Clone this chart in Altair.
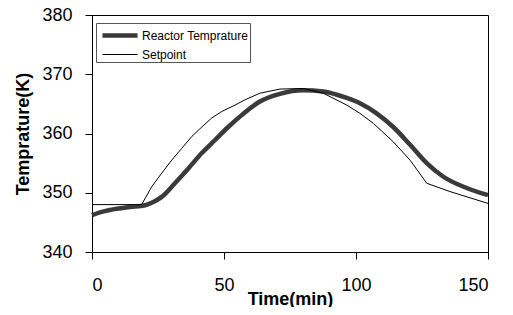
import altair as alt
import pandas as pd

# Setpoint trajectory
sp_t = [0, 18.8, 22.6, 26.4, 30.2, 34.0, 37.8, 41.6, 45.3, 49.1, 54.2, 58.0, 63.6,
        71.2, 80.0, 87.6, 96.5, 101.5, 106.6, 114.1, 120.5, 126.8, 135.6, 150]
sp_v = [348.0, 348.0, 351.0, 353.3, 355.5, 357.5, 359.5, 361.1, 362.6, 363.7, 364.8,
        365.7, 366.8, 367.5, 367.6, 366.8, 364.8, 363.4, 361.7, 358.6, 355.5, 351.6,
        350.2, 348.2]

# Reactor temperature
rt_t = [0, 3, 6.8, 14.4, 20.1, 23, 26.4, 31.4, 36.5, 41.6, 46.6, 51.6, 56.7, 63.6,
        71.2, 80, 87.6, 96.5, 101.5, 107.8, 114.1, 120.5, 126.8, 133.1, 141.9, 150]
rt_v = [346.2, 346.7, 347.1, 347.6, 347.9, 348.4, 349.3, 351.6, 354.1, 356.7, 358.9,
        361.1, 363.1, 365.4, 366.7, 367.3, 367.1, 366.0, 365.1, 363.4, 361.1, 358.1,
        355.0, 352.7, 350.8, 349.6]

series = ["Reactor Temprature", "Setpoint"]
x_ticks = [0, 50, 100, 150]
y_ticks = [340, 350, 360, 370, 380]

df = pd.concat([
    pd.DataFrame({"t": rt_t, "v": rt_v, "s": series[0], "o": range(len(rt_t))}),
    pd.DataFrame({"t": sp_t, "v": sp_v, "s": series[1], "o": range(len(sp_t))}),
])

leg = alt.Legend(title=None, orient="none", legendX=4, legendY=8,
                 symbolType="M-1.95,0H1.95", symbolSize=324, symbolOffset=11.5,
                 labelFont="Liberation Sans", labelFontSize=12, labelOffset=10.5,
                 padding=1, rowPadding=0, strokeColor="#555555", fillColor="white")

base = alt.Chart(df).encode(
    x=alt.X("t:Q", scale=alt.Scale(domain=[0, 150], nice=False),
            axis=alt.Axis(values=x_ticks, title="Time(min)", labelPadding=17,
                          titleY=52, titleBaseline="alphabetic")),
    y=alt.Y("v:Q", scale=alt.Scale(domain=[340, 380], nice=False, zero=False),
            axis=alt.Axis(values=y_ticks, title="Temprature(K)", labelPadding=13,
                          titlePadding=9)),
    color=alt.Color("s:N", scale=alt.Scale(domain=series, range=["#3a3a3a", "#000000"]),
                    legend=leg),
    strokeWidth=alt.StrokeWidth("s:N", scale=alt.Scale(domain=series, range=[4.5, 1]),
                                legend=leg),
    order="o:Q",
)

reactor = base.transform_filter(alt.datum.s == series[0]).mark_line(interpolate="monotone")
setpoint = base.transform_filter(alt.datum.s == series[1]).mark_line()

chart = alt.layer(reactor, setpoint).properties(
    width=396, height=237,
    autosize=alt.AutoSizeParams(type="none"),
    padding={"left": 84, "top": 7, "right": 17, "bottom": 55},
).configure_view(
    stroke="#000000", strokeWidth=1
).configure_axis(
    grid=False, domainColor="#000000", tickColor="#000000", tickSize=7,
    labelFont="Liberation Sans", labelFontSize=18, labelColor="#000000",
    titleFont="Liberation Sans", titleFontSize=18, titleFontWeight="bold",
    titleColor="#000000",
)

chart.save("out.html", embed_options={"renderer": "svg", "actions": False})
